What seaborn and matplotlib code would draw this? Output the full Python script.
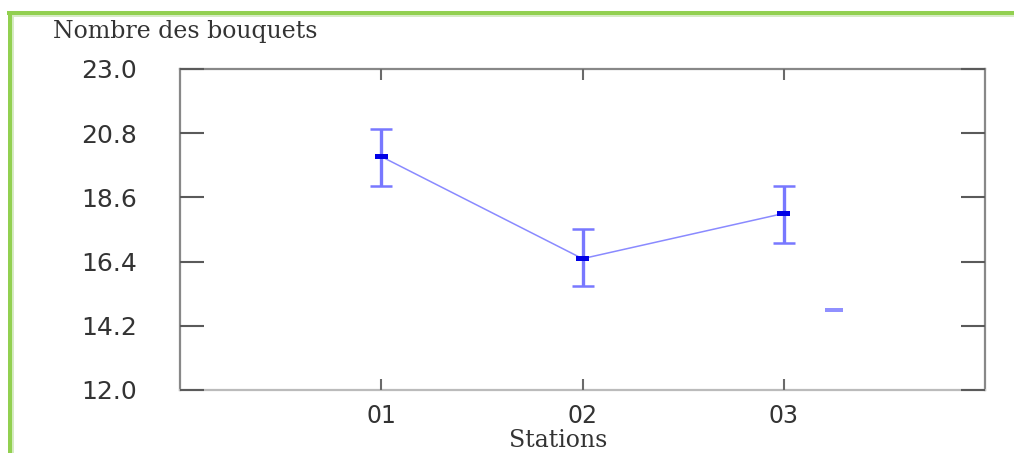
import numpy as np
import matplotlib
matplotlib.use("Agg")
import matplotlib.pyplot as plt
import seaborn as sns
from matplotlib.lines import Line2D
from matplotlib.path import Path

# Data
stations = ["01", "02", "03"]
positions = [1, 2, 3]
means = [20.0, 16.5, 18.05]
err_low = [19.0, 15.55, 17.05]
err_high = [20.95, 17.5, 19.0]
y_ticks = [12.0, 14.2, 16.4, 18.6, 20.8, 23.0]

# stray dash at the right of station 03
stray_x = [3.25]
stray_y = [14.75]

# flat bar markers (mean marker and stray dash)
mean_mark = Path([(-1.2, -0.5), (1.2, -0.5), (1.2, 0.5), (-1.2, 0.5), (-1.2, -0.5)],
                 [Path.MOVETO, Path.LINETO, Path.LINETO, Path.LINETO, Path.CLOSEPOLY])
dash_mark = Path([(-1.0, -0.2), (1.0, -0.2), (1.0, 0.2), (-1.0, 0.2), (-1.0, -0.2)],
                 [Path.MOVETO, Path.LINETO, Path.LINETO, Path.LINETO, Path.CLOSEPOLY])

sns.set_style("ticks")

fig = plt.figure(figsize=(10.14, 4.53), dpi=100)
ax = fig.add_axes([180 / 1014, 1 - 390 / 453, 805 / 1014, 321 / 453])

sns.lineplot(x=positions, y=means, ax=ax, color="#8a8aff", linewidth=1.1)

yerr = [np.array(means) - np.array(err_low), np.array(err_high) - np.array(means)]
ax.errorbar(positions, means, yerr=yerr, fmt="none", ecolor="#7878ff",
            elinewidth=2.4, capsize=8, capthick=1.8)
ax.scatter(positions, means, marker=mean_mark, s=90, color="#0000e6",
           edgecolors="none", zorder=4)
ax.scatter(stray_x, stray_y, marker=dash_mark, s=170, color="#9090ff",
           edgecolors="none", zorder=4)

ax.set_xlim(0, 4)
ax.set_ylim(12.0, 23.0)
ax.set_xticks(positions)
ax.set_xticklabels(stations)
ax.set_yticks(y_ticks)
ax.set_yticklabels([f"{v:.1f}" for v in y_ticks])

ax.set_axisbelow(False)
ax.xaxis.set_ticks_position("both")
ax.yaxis.set_ticks_position("both")
ax.tick_params(axis="y", which="major", direction="in", length=17, width=1.5,
               colors="#5a5a5a", labelcolor="#333333", labelsize=18, pad=31)
ax.tick_params(axis="x", which="major", direction="in", length=8, width=1.5,
               colors="#6a6a6a", labelcolor="#333333", labelsize=17, pad=10)
for lab in ax.get_xticklabels() + ax.get_yticklabels():
    lab.set_family("DejaVu Sans")

for side in ["left", "right", "top"]:
    ax.spines[side].set_color("#888888")
    ax.spines[side].set_linewidth(1.6)
ax.spines["bottom"].set_color("#bbbbbb")
ax.spines["bottom"].set_linewidth(1.6)

ax.set_xlabel("Stations", family="DejaVu Serif", fontsize=17, color="#333333")
ax.xaxis.set_label_coords((558 - 180) / 805, (390 - 429) / 321)
ax.set_ylabel("Nombre des bouquets", family="DejaVu Serif", fontsize=17,
              color="#333333", rotation=0, ha="left", va="baseline")
ax.yaxis.set_label_coords((53 - 180) / 805, (390 - 38) / 321)

# green frame of the original slide (left and top edges)
W, H = 1014, 453
frame = [
    ([9.5 / W, 9.5 / W], [0, 1 - 11 / H], "#92d050", 3.6),
    ([7 / W, 1], [1 - 13 / H, 1 - 13 / H], "#92d050", 2.9),
    ([13 / W, 13 / W], [0, 1 - 15 / H], "#d6ecc4", 1.4),
    ([12 / W, 1], [1 - 16 / H, 1 - 16 / H], "#d6ecc4", 1.4),
]
for xs, ys, c, lw in frame:
    fig.add_artist(Line2D(xs, ys, transform=fig.transFigure, color=c,
                          linewidth=lw, solid_capstyle="butt"))

for t in ax.xaxis.get_major_ticks() + ax.yaxis.get_major_ticks():
    t.tick1line.set_visible(True)
    t.tick2line.set_visible(True)

fig.savefig("out.png", dpi=100)
